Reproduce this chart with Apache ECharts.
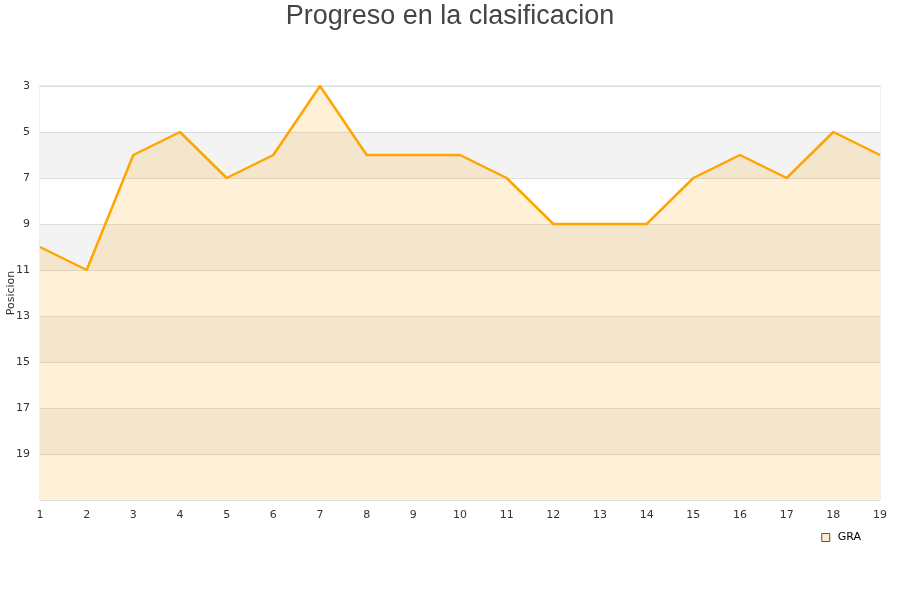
<!DOCTYPE html>
<html><head><meta charset="utf-8">
<script src="https://cdn.jsdelivr.net/npm/echarts@6/dist/echarts.min.js"></script>
<style>html,body{margin:0;padding:0;background:#fff}#c{width:900px;height:600px}</style>
</head><body><div id="c"></div>
<script>
var jornadas = ['1','2','3','4','5','6','7','8','9','10','11','12','13','14','15','16','17','18','19'];
var posiciones = [10,11,6,5,7,6,3,6,6,6,7,9,9,9,7,6,7,5,6];
var serieNombre = 'GRA';
var chart = echarts.init(document.getElementById('c'));
chart.setOption({
  animation:false,
  title:{text:'Progreso en la clasificacion',left:'center',top:-2,textStyle:{fontFamily:'Liberation Sans',fontSize:27,fontWeight:'normal',color:'#444'}},
  grid:{left:40,right:20,top:86,bottom:100,show:true,borderColor:'#ddd',borderWidth:1,containLabel:false,outerBoundsMode:'none'},
  legend:{data:[{name:serieNombre,icon:'rect'}],right:34,top:527,itemWidth:8,itemHeight:8,textStyle:{fontFamily:'DejaVu Sans',fontSize:11,color:'#000',padding:[0,0,0,3]},itemStyle:{color:'#ffecc8',borderColor:'#555',borderWidth:1}},
  xAxis:{type:'category',data:jornadas,boundaryGap:false,axisLine:{show:false},axisTick:{show:false},axisLabel:{fontFamily:'DejaVu Sans',fontSize:11,color:'#333',margin:10},splitLine:{show:false}},
  yAxis:{type:'value',inverse:true,min:3,max:21,interval:2,name:'Posicion',nameLocation:'middle',nameGap:23,nameMoveOverlap:false,nameTextStyle:{fontFamily:'DejaVu Sans',fontSize:11,color:'#333'},
    axisLine:{show:false},axisTick:{show:false},
    axisLabel:{fontFamily:'DejaVu Sans',fontSize:11,color:'#333',margin:10,formatter:function(v){return v>=21?'':v;}},
    splitLine:{show:true,lineStyle:{color:'#ddd',width:1}},
    splitArea:{show:true,areaStyle:{color:['#ffffff','#f3f3f3']}}},
  series:[{name:serieNombre,type:'line',data:posiciones,symbol:'none',lineStyle:{color:'#ffa500',width:2.5},itemStyle:{color:'#ffecc8'},
    areaStyle:{color:'rgba(255,165,0,0.215)',origin:'end'}}]
});
</script></body></html>
